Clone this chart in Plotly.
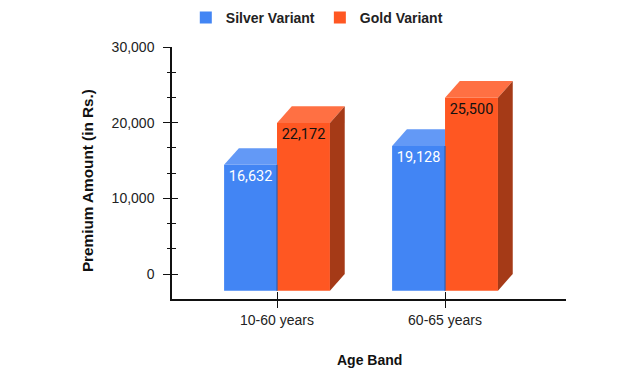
import plotly.graph_objects as go

categories = ["10-60 years", "60-65 years"]
silver = [16632, 19128]
gold = [22172, 25500]
series_names = ["Silver Variant", "Gold Variant"]
y_ticks = [0, 10000, 20000, 30000]

# styling / geometry of the pseudo-3D effect
BAR_W = 0.315          # bar width in category units
DEPTH_X = 0.088        # depth shift in category units
DEPTH_Y = 2200         # depth shift in value units
FONT = "Liberation Sans, Arial, sans-serif"

front_colors = ["#4285F4", "#FF5722"]
top_colors = ["#6399F6", "#FF7043"]
side_colors = ["#2F5FAE", "#A53A17"]
label_colors = ["#FFFFFF", "#111111"]

xpos = list(range(len(categories)))
all_series = [silver, gold]
fig = go.Figure()

for si, (name, vals) in enumerate(zip(series_names, all_series)):
    off = -BAR_W if si == 0 else 0.0
    last = si == len(all_series) - 1
    fig.add_trace(go.Bar(
        x=xpos, y=vals, base=[-DEPTH_Y] * len(vals), name=name,
        width=BAR_W, offset=off,
        marker=dict(color=front_colors[si], line=dict(width=0)),
        texttemplate="%{y:,}", textposition="inside", insidetextanchor="end",
        textfont=dict(family="Roboto, sans-serif", size=14.5, color=label_colors[si]),
        hoverinfo="skip", showlegend=True,
    ))
    for xi, v in zip(xpos, vals):
        x0 = xi + off
        x1 = x0 + BAR_W
        # top face (clipped where the neighbouring taller bar hides it)
        xr_back = x1 + DEPTH_X if last else x1
        fig.add_trace(go.Scatter(
            x=[x0, x1, xr_back, x0 + DEPTH_X, x0],
            y=[v - DEPTH_Y, v - DEPTH_Y, v, v, v - DEPTH_Y],
            fill="toself", mode="lines", line=dict(width=0),
            fillcolor=top_colors[si], hoverinfo="skip", showlegend=False))
        if last:
            # side face
            fig.add_trace(go.Scatter(
                x=[x1, x1, x1 + DEPTH_X, x1 + DEPTH_X, x1],
                y=[-DEPTH_Y, v - DEPTH_Y, v, 0, -DEPTH_Y],
                fill="toself", mode="lines", line=dict(width=0),
                fillcolor=side_colors[si], hoverinfo="skip", showlegend=False))
        else:
            # thin visible edge of the hidden side face
            fig.add_trace(go.Scatter(
                x=[x1, x1], y=[-DEPTH_Y, v - DEPTH_Y], mode="lines",
                line=dict(width=1.2, color=side_colors[si]),
                hoverinfo="skip", showlegend=False))

# invisible trace on overlay axes (for crossing ticks)
fig.add_trace(go.Scatter(x=[None], y=[None], xaxis="x2", yaxis="y2",
                         showlegend=False, hoverinfo="skip"))

yr = [-3300, 30000]
xr = [-0.625, 1.72]

fig.update_layout(
    width=640, height=374,
    margin=dict(l=172, r=74, t=47, b=75, autoexpand=False),
    paper_bgcolor="white", plot_bgcolor="white",
    barmode="overlay",
    font=dict(family=FONT, size=14, color="#222222"),
    showlegend=True,
    legend=dict(orientation="h", xref="container", yref="container",
                x=0.495, xanchor="center", y=0.952, yanchor="middle",
                font=dict(family=FONT, size=14, color="#222222", weight="bold"),
                traceorder="normal", itemclick=False),
    xaxis=dict(range=xr, tickvals=xpos, ticktext=categories, showgrid=False,
               zeroline=False, showline=True, linecolor="#111111", linewidth=2,
               ticks="outside", ticklen=7, tickcolor="#111111", tickwidth=1.3,
               automargin=False,
               tickfont=dict(family=FONT, size=14, color="#222222")),
    yaxis=dict(range=yr, tickvals=y_ticks, tickformat=",", showgrid=False,
               zeroline=False, showline=True, linecolor="#111111", linewidth=1.5,
               ticks="outside", ticklen=7, tickcolor="#111111", tickwidth=1.3,
               ticklabelstandoff=6, automargin=False,
               minor=dict(dtick=10000 / 3, tick0=0, ticks="outside", ticklen=3,
                          tickcolor="#111111", tickwidth=1.3),
               tickfont=dict(family=FONT, size=14, color="#222222")),
    xaxis2=dict(range=xr, overlaying="x", anchor="y", tickvals=xpos,
                showticklabels=False, showgrid=False, zeroline=False, showline=False,
                ticks="inside", ticklen=7, tickcolor="#111111", tickwidth=1.3),
    yaxis2=dict(range=yr, overlaying="y", anchor="x", side="left", tickvals=y_ticks,
                showticklabels=False, showgrid=False, zeroline=False, showline=False,
                ticks="inside", ticklen=6, tickcolor="#111111", tickwidth=1.3,
                minor=dict(dtick=10000 / 3, tick0=0, ticks="inside", ticklen=4,
                           tickcolor="#111111", tickwidth=1.3)),
    annotations=[
        dict(text="Premium Amount (in Rs.)", textangle=-90, xref="paper", yref="paper",
             x=-0.2157, y=0.468, xanchor="center", yanchor="middle", showarrow=False,
             font=dict(family=FONT, size=15.3, color="#111111", weight="bold")),
        dict(text="Age Band", xref="paper", yref="paper", x=0.5, y=-0.242,
             xanchor="center", yanchor="middle", showarrow=False,
             font=dict(family=FONT, size=14, color="#111111", weight="bold")),
    ],
)

fig.write_html("out.html", config={"displayModeBar": False},
               post_script="document.body.style.margin='0';document.body.style.overflow='hidden';")
